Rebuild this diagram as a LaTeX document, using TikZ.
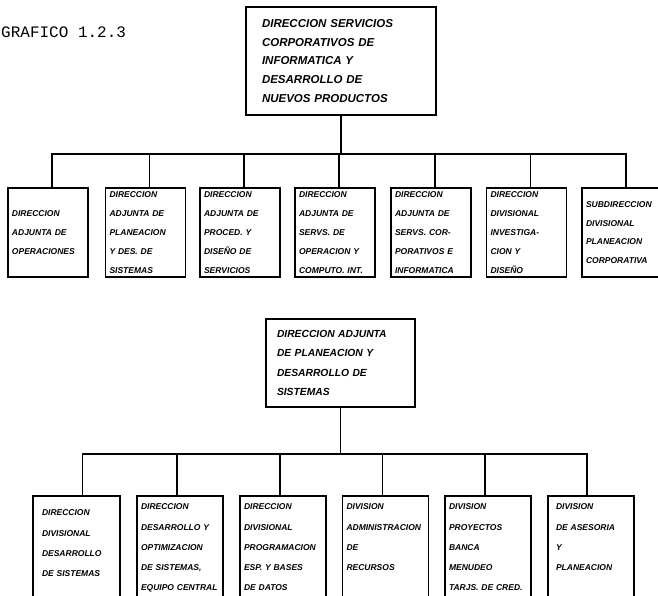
\documentclass[tikz,border=0pt]{standalone}
\usepackage{fontspec}
\newfontfamily\orgfont{Liberation Sans}
\newfontfamily\capfont{Liberation Mono}
\usetikzlibrary{positioning}
\tikzset{
  box/.style={draw, line width=1.6pt, align=left, inner ysep=4pt,
              font=\orgfont\bfseries\itshape\fontsize{8.5}{18.8}\selectfont},
  head/.style={box, inner xsep=16pt, text width=158pt, minimum height=108pt,
               font=\orgfont\bfseries\itshape\fontsize{11.5}{18.6}\selectfont},
  sub/.style={box, inner xsep=11pt, text width=127pt, minimum height=88pt,
              font=\orgfont\bfseries\itshape\fontsize{10.3}{19.5}\selectfont},
  unit/.style={box, inner xsep=4pt, text width=72pt, minimum height=89pt},
  dept/.style={box, anchor=north, inner xsep=4pt, text width=78pt,
               text height=10pt, text depth=100pt,
               font=\orgfont\bfseries\itshape\fontsize{8.5}{20.2}\selectfont},
  link/.style={line width=1.5pt},
}

\begin{document}
\begin{tikzpicture}[x=1pt, y=-1pt]
\useasboundingbox (0,0) rectangle (658,596);
\clip (0,0) rectangle (658,596);

\node[anchor=base west, inner sep=0pt, font=\capfont\fontsize{16}{18}\selectfont] (title) at (1,38) {GRAFICO 1.2.3};

\node[head] (top) at (341,61) {DIRECCION SERVICIOS\\ CORPORATIVOS DE\\ INFORMATICA Y\\ DESARROLLO DE\\ NUEVOS PRODUCTOS};

\node[unit] (a1) at (48,232.5) {DIRECCION\\ ADJUNTA DE\\ OPERACIONES};
\node[unit] (a2) at (145.5,232.5) {DIRECCION\\ ADJUNTA DE\\ PLANEACION\\ Y DES. DE\\ SISTEMAS};
\node[unit] (a3) at (240,232.5) {DIRECCION\\ ADJUNTA DE\\ PROCED. Y\\ DISEÑO DE\\ SERVICIOS};
\node[unit] (a4) at (335,232.5) {DIRECCION\\ ADJUNTA DE\\ SERVS. DE\\ OPERACION Y\\ COMPUTO. INT.};
\node[unit] (a5) at (431,232.5) {DIRECCION\\ ADJUNTA DE\\ SERVS. COR-\\ PORATIVOS E\\ INFORMATICA};
\node[unit] (a6) at (526.5,232.5) {DIRECCION\\ DIVISIONAL\\ INVESTIGA-\\ CION Y\\ DISEÑO};
\node[unit] (a7) at (622,232.5) {SUBDIRECCION\\ DIVISIONAL\\ PLANEACION\\ CORPORATIVA};

\draw[link] (top.south) -- ++(0,38) coordinate (bus1);
\draw[link] ([xshift=4pt]a1.north) |- ([xshift=4pt]a7.north |- bus1) -- ([xshift=4pt]a7.north);
\foreach \i in {2,...,6}
  \draw[link] ([xshift=4pt]a\i.north) -- ([xshift=4pt]a\i.north |- bus1);

\node[sub] (plan) at (340.5,363) {DIRECCION ADJUNTA\\ DE PLANEACION Y\\ DESARROLLO DE\\ SISTEMAS};

\node[dept, inner xsep=9pt, text width=69pt, text height=16pt] (b1) at (76.5,495) {DIRECCION\\ DIVISIONAL\\ DESARROLLO\\ DE SISTEMAS};
\node[dept] (b2) at (180,495) {DIRECCION\\ DESARROLLO Y\\ OPTIMIZACION\\ DE SISTEMAS,\\ EQUIPO CENTRAL};
\node[dept] (b3) at (283,495) {DIRECCION\\ DIVISIONAL\\ PROGRAMACION\\ ESP. Y BASES\\ DE DATOS};
\node[dept] (b4) at (385.5,495) {DIVISION\\ ADMINISTRACION\\ DE\\ RECURSOS};
\node[dept] (b5) at (488,495) {DIVISION\\ PROYECTOS\\ BANCA\\ MENUDEO\\ TARJS. DE CRED.};
\node[dept, inner xsep=8pt, text width=70pt] (b6) at (591,495) {DIVISION\\ DE ASESORIA\\ Y\\ PLANEACION};

\draw[link] (plan.south) -- ++(0,46) coordinate (bus2);
\draw[link] ([xshift=6pt]b1.north) |- ([xshift=-4pt]b6.north |- bus2) -- ([xshift=-4pt]b6.north);
\foreach \i in {2,...,5}
  \draw[link] ([xshift=-3pt]b\i.north) -- ([xshift=-3pt]b\i.north |- bus2);

\end{tikzpicture}
\end{document}
